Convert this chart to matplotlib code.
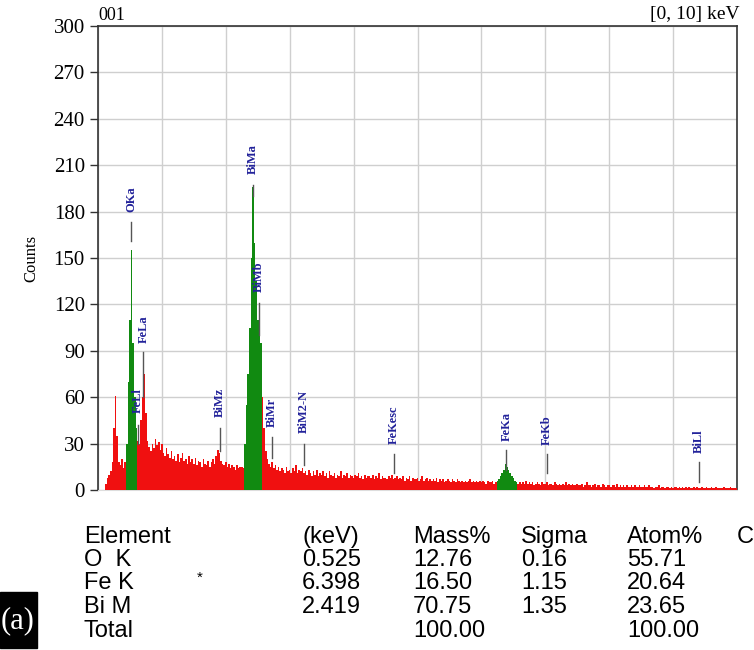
"""EDS spectrum (counts vs energy) with quantification table"""

import numpy as np
import matplotlib.pyplot as plt

CHANNEL_KEV = 0.025  # width of one spectrum channel

# counts per channel, 0.000 .. 10.000 keV, one row = 0.25 keV
COUNTS = [
    0, 0, 0, 0, 0, 4, 8, 10, 12, 18,
    40, 61, 35, 18, 16, 20, 14, 18, 30, 70,
    110, 155, 95, 60, 40, 32, 30, 45, 60, 75,
    50, 32, 28, 25, 30, 27, 33, 29, 31, 26,
    30, 24, 22, 27, 23, 21, 25, 20, 22, 19,
    23, 18, 21, 24, 19, 20, 17, 22, 18, 20,
    17, 21, 16, 19, 18, 15, 20, 17, 16, 19,
    15, 18, 20, 17, 22, 26, 24, 19, 17, 16,
    18, 15, 17, 14, 16, 15, 13, 16, 14, 15,
    15, 14, 30, 55, 75, 105, 150, 196, 160, 135,
    110, 120, 95, 60, 40, 25, 20, 17, 15, 18,
    14, 16, 13, 15, 12, 14, 13, 11, 15, 12,
    13, 11, 14, 12, 16, 11, 13, 12, 14, 11,
    12, 10, 13, 11, 9, 12, 10, 13, 9, 11,
    10, 12, 9, 11, 8, 12, 10, 9, 11, 8,
    10, 9, 12, 8, 10, 9, 11, 8, 10, 9,
    8, 10, 9, 11, 8, 9, 7, 10, 8, 9,
    9, 8, 10, 7, 9, 8, 11, 7, 9, 8,
    8, 7, 9, 8, 10, 7, 8, 9, 7, 8,
    7, 9, 6, 8, 7, 9, 6, 8, 7, 7,
    8, 6, 7, 9, 6, 7, 8, 6, 7, 6,
    7, 6, 8, 5, 7, 6, 7, 5, 6, 7,
    6, 5, 7, 6, 5, 7, 6, 5, 6, 5,
    6, 5, 6, 7, 5, 6, 5, 6, 5, 6,
    5, 6, 5, 4, 6, 5, 5, 6, 4, 5,
    6, 7, 9, 11, 13, 17, 15, 13, 11, 9,
    8, 6, 5, 4, 5, 4, 5, 4, 6, 4,
    5, 4, 5, 3, 4, 5, 4, 3, 5, 4,
    4, 5, 3, 4, 4, 3, 5, 4, 3, 4,
    3, 4, 3, 5, 3, 4, 3, 4, 3, 3,
    4, 3, 3, 4, 2, 3, 5, 3, 3, 2,
    3, 4, 2, 3, 3, 2, 4, 3, 2, 3,
    3, 2, 3, 3, 2, 4, 2, 3, 2, 3,
    2, 3, 2, 2, 3, 2, 3, 2, 2, 3,
    2, 2, 3, 2, 2, 3, 2, 2, 1, 2,
    2, 3, 1, 2, 2, 1, 2, 2, 1, 2,
    1, 2, 2, 1, 2, 1, 2, 1, 2, 1,
    2, 1, 1, 2, 1, 2, 1, 1, 2, 1,
    1, 2, 1, 1, 2, 1, 1, 2, 1, 1,
    1, 1, 2, 1, 1, 1, 2, 1, 1, 1,
    1,
]

# energy windows (keV) of the fitted element peaks, drawn in green
PEAK_WINDOWS = [(0.44, 0.61), (2.29, 2.56), (6.24, 6.56)]

# peak markers: label, energy (keV), marker line from/to (counts), text base (counts)
PEAK_NAMES = ["OKa", "FeLl", "FeLa", "BiMz", "BiMa", "BiMb", "BiMr",
              "BiM2-N", "FeKesc", "FeKa", "FeKb", "BiLl"]
PEAK_KEV = [0.52, 0.62, 0.71, 1.91, 2.42, 2.52, 2.72, 3.22, 4.63, 6.39, 7.03, 9.41]
LINE_LO = [161, 30, 60, 25, 190, 100, 21, 16, 11, 13, 11, 5]
LINE_HI = [173, 42, 89, 40, 197, 121, 34, 30, 23, 26, 23, 18]
TEXT_BASE = [180, 50, 95, 47, 204, 128, 41, 37, 30, 32, 29, 24]

# quantification table
TABLE_HEAD = ["Element", "(keV)", "Mass%", "Sigma", "Atom%", "C"]
ELEMENTS = ["O  K", "Fe K", "Bi M", "Total"]
KEV = ["0.525", "6.398", "2.419", ""]
MASS = ["12.76", "16.50", "70.75", "100.00"]
SIGMA = ["0.16", "1.15", "1.35", ""]
ATOM = ["55.71", "20.64", "23.65", "100.00"]

W, H = 754, 650
fig = plt.figure(figsize=(W / 100, H / 100), dpi=100)
ax = fig.add_axes([98 / W, 1 - 490 / H, 639 / W, 464 / H])

counts = np.array(COUNTS, dtype=float)
energy = np.arange(len(counts)) * CHANNEL_KEV
in_peak = np.zeros(len(counts), dtype=bool)
for lo, hi in PEAK_WINDOWS:
    in_peak |= (energy >= lo) & (energy <= hi)
colors = np.where(in_peak, "#118a11", "#f01010")
ax.bar(energy, counts, width=CHANNEL_KEV, color=colors, linewidth=0, zorder=3)

for name, e, lo, hi, tb in zip(PEAK_NAMES, PEAK_KEV, LINE_LO, LINE_HI, TEXT_BASE):
    ax.plot([e, e], [lo, hi], color="#555555", lw=1, zorder=4)
    ax.text(e, tb, name, rotation=90, ha="center", va="bottom",
            family="Liberation Serif", weight="bold", fontsize=9,
            color="#22229a", zorder=5)

ax.set_xlim(0, 10)
ax.set_ylim(0, 300)
ax.set_xticks(np.arange(0, 11, 1))
ax.set_yticks(np.arange(0, 301, 30))
ax.tick_params(axis="x", length=0, labelbottom=False)
ax.tick_params(axis="y", length=6, width=1, labelsize=15, color="#333333")
for lab in ax.get_yticklabels():
    lab.set_family("Liberation Serif")
ax.grid(True, color="#cfcfcf", lw=1, zorder=0)
for side in ["left", "top", "right"]:
    ax.spines[side].set_color("#333333")
    ax.spines[side].set_linewidth(1.2)
ax.spines["bottom"].set_color("#dddddd")

ax.set_ylabel("Counts", family="Liberation Serif", fontsize=12, labelpad=10)
fig.text(98 / W, 1 - 15 / H, "001", family="Liberation Serif", fontsize=13,
         va="center", ha="left")
fig.text(740 / W, 1 - 15 / H, "[0, 10] keV", family="Liberation Serif",
         fontsize=14, va="center", ha="right")

# table under the spectrum
col_x = [84, 302, 413, 521, 627, 737]
row_y = [537, 560, 583, 607, 631]
tkw = dict(family="Liberation Sans", fontsize=17, va="center", ha="left")
for x, head in zip(col_x, TABLE_HEAD):
    fig.text(x / W, 1 - row_y[0] / H, head, **tkw)
for i, row in enumerate(zip(ELEMENTS, KEV, MASS, SIGMA, ATOM)):
    for x, cell in zip(col_x, row):
        fig.text(x / W, 1 - row_y[i + 1] / H, cell, **tkw)
fig.text(197 / W, 1 - 578 / H, "*", family="Liberation Sans", fontsize=11,
         va="center", ha="left")

# panel tag
fig.patches.append(plt.Rectangle((0, 2 / H), 37 / W, 56 / H, color="black",
                                 transform=fig.transFigure, figure=fig))
fig.text(18 / W, 1 - 621 / H, "(a)", family="Liberation Serif", fontsize=22,
         color="white", ha="center", va="center")

fig.savefig("out.png", dpi=100)
